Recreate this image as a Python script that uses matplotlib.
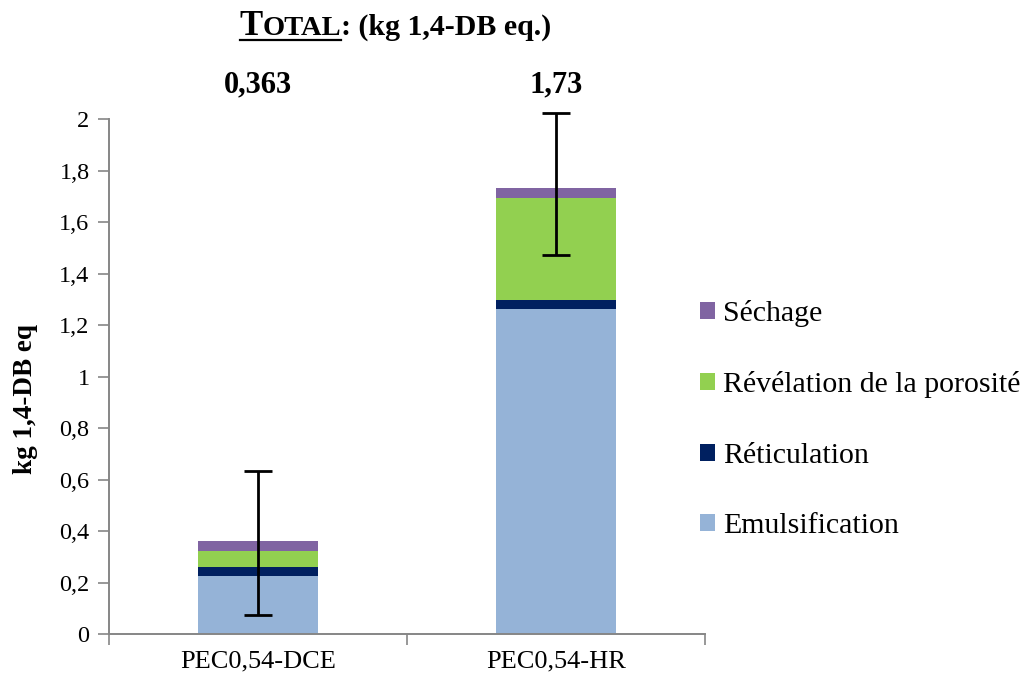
import matplotlib.pyplot as plt
from matplotlib.lines import Line2D
from matplotlib.ticker import FuncFormatter, MultipleLocator

plt.rcParams['font.family'] = ['Liberation Serif', 'DejaVu Serif']

# data
categories = ['PEC0,54-DCE', 'PEC0,54-HR']
emulsification = [0.226, 1.262]
reticulation = [0.035, 0.034]
revelation = [0.062, 0.398]
sechage = [0.040, 0.039]
total_labels = ['0,363', '1,73']
err_low = [0.289, 0.262]
err_high = [0.269, 0.292]

series = [('Emulsification', emulsification, '#95B3D7'),
          ('Réticulation', reticulation, '#002060'),
          ('Révélation de la porosité', revelation, '#92D050'),
          ('Séchage', sechage, '#8064A2')]

fig = plt.figure(figsize=(10.24, 6.77), dpi=100)
ax = fig.add_axes([0.1064, 0.0635, 0.582, 0.7605])

x = list(range(len(categories)))
bottom = [0.0] * len(categories)
for name, vals, color in series:
    ax.bar(x, vals, width=0.4, bottom=bottom, color=color, label=name)
    bottom = [b + v for b, v in zip(bottom, vals)]

# error bars on the totals
eb = ax.errorbar(x, bottom, yerr=[err_low, err_high], fmt='none', ecolor='black',
                 elinewidth=2, capsize=10, capthick=2)
for art in eb.lines[1] + eb.lines[2]:
    art.set_clip_on(False)

# total labels above the axes
for xi, lab in zip(x, total_labels):
    ax.text(xi, 2.105, lab, ha='center', va='baseline', fontsize=22,
            fontweight='bold', clip_on=False)

ax.set_xlim(-0.5, 1.5)
ax.set_ylim(0, 2)
ax.yaxis.set_major_locator(MultipleLocator(0.2))
ax.yaxis.set_major_formatter(FuncFormatter(lambda v, p: f'{v:.1f}'.rstrip('0').rstrip('.').replace('.', ',')))
ax.set_xticks([-0.5, 0.5, 1.5])
ax.set_xticklabels([])
ax.set_xticks(x, minor=True)
ax.set_xticklabels(categories, minor=True, fontsize=19)
ax.tick_params(axis='x', which='minor', length=0, pad=12)
ax.tick_params(axis='x', which='major', length=8, direction='out', color='#868686', width=1.2)
ax.tick_params(axis='y', labelsize=17.5, length=8, color='#868686', width=1.2, pad=6)
for s in ['top', 'right']:
    ax.spines[s].set_visible(False)
for s in ['left', 'bottom']:
    ax.spines[s].set_color('#868686')
    ax.spines[s].set_linewidth(1.4)

ax.set_ylabel('kg 1,4-DB eq', fontsize=19.5, fontweight='bold')
ax.yaxis.set_label_coords(-0.119, 0.457)

h, l = ax.get_legend_handles_labels()
fig.legend(h[::-1], l[::-1], loc='center left', bbox_to_anchor=(0.684, 0.38),
           frameon=False, fontsize=21.5, handlelength=0.5, handleheight=0.5,
           handletextpad=0.25, labelspacing=1.49, borderaxespad=0, borderpad=0)

# title with small caps and underline on TOTAL
r = fig.canvas.get_renderer()
ty = 1 - 35 / 677
t1 = fig.text(0.234, ty, 'T', fontsize=25, fontweight='bold', va='baseline')
bb1 = t1.get_window_extent(r).transformed(fig.transFigure.inverted())
t2 = fig.text(bb1.x1, ty, 'OTAL', fontsize=20.5, fontweight='bold', va='baseline')
bb2 = t2.get_window_extent(r).transformed(fig.transFigure.inverted())
t3 = fig.text(bb2.x1, ty, ': (kg 1,4-DB eq.)', fontsize=21.5, fontweight='bold', va='baseline')
uy = 1 - 40 / 677
fig.add_artist(Line2D([0.234, bb2.x1], [uy, uy], color='black', lw=1.6,
                      transform=fig.transFigure))

fig.savefig('out.png', dpi=100)
